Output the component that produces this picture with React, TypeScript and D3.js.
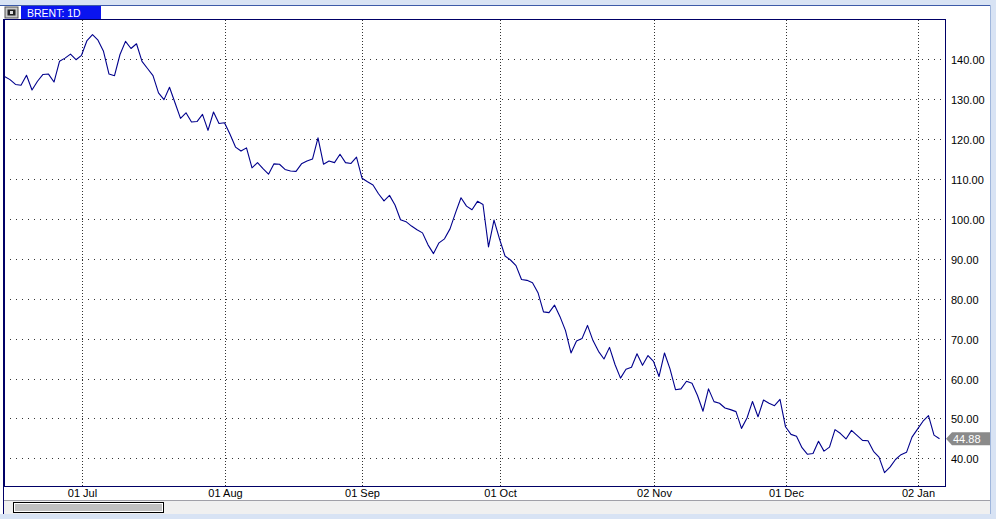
import { useEffect, useRef } from "react";
import * as d3 from "d3";

// BRENT daily closes (mid-June 2008 .. early Jan 2009)
const prices = [
  135.7, 134.9, 133.7, 133.5, 136, 132.3, 134.5, 136.2, 136.3, 134.3,
  139.5, 140.3, 141.3, 139.9, 141, 144.7, 146.2, 144.8, 142, 136.3,
  135.9, 141.2, 144.5, 142.7, 143.9, 139.5, 137.7, 135.9, 131.6, 129.9,
  133, 129.1, 125.2, 126.6, 124.3, 124.4, 126.2, 122.2, 126.8, 123.9,
  124.1, 121.2, 118, 117, 117.8, 112.8, 114.1, 112.6, 111.2, 113.8,
  113.7, 112.4, 112, 111.9, 113.8, 114.5, 115, 120.3, 113.7, 114.5,
  114.1, 116.2, 114.1, 113.9, 115.5, 110.2, 109.3, 108.5, 106.3, 104.5,
  105.9, 103.5, 99.8, 99.3, 98.2, 97.3, 96.5, 93.5, 91.3, 94,
  95, 97.5, 101.5, 105.3, 103.2, 102.3, 104.4, 103.6, 93, 99.7,
  95, 90.7, 89.7, 88.3, 84.8, 84.6, 84, 81.5, 76.7, 76.5,
  78.4, 75.5, 72, 66.4, 69.4, 70, 73.3, 69.5, 66.8, 64.9,
  67.8, 63.5, 60.1, 62.3, 62.8, 66.2, 63.3, 65.75, 64.3, 60.5,
  66.4, 62.4, 57.2, 57.4, 59.3, 58.8, 55.75, 51.8, 57.4, 54.2,
  53.8, 52.6, 52.2, 51.7, 47.5, 50.1, 54.25, 50.4, 54.6, 53.8,
  53.2, 54.75, 47.9, 46, 45.5, 42.65, 41, 41.2, 44.25, 41.8,
  42.8, 47.2, 46.2, 44.85, 47, 45.75, 44.5, 44.4, 41.75, 40.3,
  36.4, 37.8, 39.7, 40.9, 41.5, 45.3, 47.3, 49.3, 50.7, 45.8,
  44.88,
];

const priceTicks = [40, 50, 60, 70, 80, 90, 100, 110, 120, 130, 140];
const dateLabels = ["01 Jul", "01 Aug", "01 Sep", "01 Oct", "02 Nov", "01 Dec", "02 Jan"];
const dateIndex = [14, 40, 65, 90, 118, 142, 166];
const title = "BRENT: 1D";
const lastPrice = "44.88";

function BrentChart() {
  const ref = useRef<SVGSVGElement>(null);
  useEffect(() => {
    if (!ref.current) return;
    const svg = d3.select(ref.current);
    svg.selectAll("*").remove();
    const W = 996, H = 519;
    const L = 4, R = 945, T = 19, B = 486;
    const font = "'Liberation Sans', Arial, sans-serif";

    const x = d3.scaleLinear([0, prices.length - 1], [4.5, 939.5]);
    const y = d3.scaleLinear([40, 140], [458.3, 59.3]);

    // window chrome
    svg.append("rect").attr("width", W).attr("height", H).attr("fill", "#d8e3f4");
    svg.append("rect").attr("x", 0).attr("y", 5).attr("width", 990).attr("height", 509).attr("fill", "#fff");
    svg.append("line").attr("x1", 0).attr("x2", 990).attr("y1", 5.5).attr("y2", 5.5).attr("stroke", "#3c5aa8");
    svg.append("line").attr("x1", 990.5).attr("x2", 990.5).attr("y1", 5).attr("y2", 514).attr("stroke", "#9fb6dc");

    // title tab
    svg.append("rect").attr("x", 5).attr("y", 7).attr("width", 13).attr("height", 11).attr("fill", "#c8c8c8").attr("stroke", "#555");
    svg.append("rect").attr("x", 7.5).attr("y", 9.5).attr("width", 8).attr("height", 6).attr("fill", "#222");
    svg.append("rect").attr("x", 10).attr("y", 11).attr("width", 3).attr("height", 3).attr("fill", "#ddd");
    svg.append("rect").attr("x", 21).attr("y", 6).attr("width", 80).attr("height", 13).attr("fill", "#0a14f0");
    svg.append("text").attr("x", 27).attr("y", 16.5).attr("fill", "#fff")
      .attr("font-family", font).attr("font-size", 10.5).text(title);

    // scroll row
    svg.append("rect").attr("x", 4).attr("y", 501).attr("width", 986).attr("height", 13).attr("fill", "#f0f0f0");
    svg.append("line").attr("x1", 4).attr("x2", 990).attr("y1", 500.5).attr("y2", 500.5).attr("stroke", "#a0a0a8");
    svg.append("rect").attr("x", 13.5).attr("y", 502.5).attr("width", 150).attr("height", 10).attr("fill", "#c0c0c0").attr("stroke", "#000");
    svg.append("rect").attr("x", 14.5).attr("y", 503.5).attr("width", 148).attr("height", 8).attr("fill", "none").attr("stroke", "#fff");

    // grid
    const g = svg.append("g");
    priceTicks.forEach((t) => {
      const yy = Math.round(y(t)) + 0.5;
      g.append("line").attr("x1", L + 6).attr("x2", R).attr("y1", yy).attr("y2", yy)
        .attr("stroke", "#333").attr("stroke-dasharray", "1,5");
      g.append("text").attr("x", 951).attr("y", yy + 4).attr("fill", "#000")
        .attr("font-family", font).attr("font-size", 11).text(t.toFixed(2));
    });
    dateIndex.forEach((d, i) => {
      const xx = Math.round(x(d)) + 0.5;
      g.append("line").attr("x1", xx).attr("x2", xx).attr("y1", T + 1).attr("y2", B)
        .attr("stroke", "#333").attr("stroke-dasharray", "1,2");
      g.append("text").attr("x", xx).attr("y", 497).attr("text-anchor", "middle").attr("fill", "#000")
        .attr("font-family", font).attr("font-size", 11).text(dateLabels[i]);
    });

    // price line
    const line = d3.line<number>().x((_, i) => x(i)).y((d) => y(d));
    svg.append("path").attr("d", line(prices)!).attr("fill", "none")
      .attr("stroke", "#00008c").attr("stroke-width", 1.1).attr("stroke-linejoin", "round");

    // frame
    svg.append("rect").attr("x", L + 0.5).attr("y", T + 0.5).attr("width", R - L).attr("height", B - T)
      .attr("fill", "none").attr("stroke", "#000066");
    svg.append("line").attr("x1", 3.5).attr("x2", 3.5).attr("y1", T).attr("y2", 514).attr("stroke", "#000066");

    // last value marker
    const ly = y(prices[prices.length - 1]);
    svg.append("path")
      .attr("d", `M946,${ly} L952,${ly - 6.5} L990,${ly - 6.5} L990,${ly + 6.5} L952,${ly + 6.5} Z`)
      .attr("fill", "#8a8a8a");
    svg.append("text").attr("x", 953).attr("y", ly + 4).attr("fill", "#fff")
      .attr("font-family", font).attr("font-size", 11).text(lastPrice);
  }, []);
  return <svg ref={ref} width={996} height={519} style={{ position: "absolute", left: 0, top: 0 }} />;
}

export default function App() {
  return <BrentChart />;
}
